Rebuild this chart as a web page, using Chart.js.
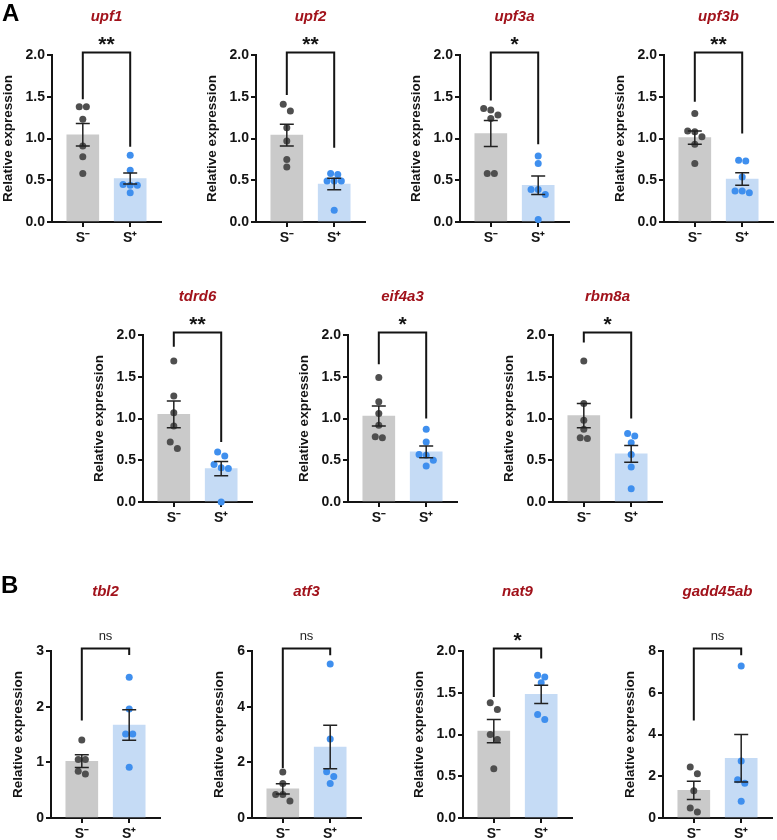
<!DOCTYPE html>
<html><head><meta charset="utf-8">
<script src="https://cdn.jsdelivr.net/npm/chart.js@4.4.1/dist/chart.umd.min.js"></script>
<style>
html,body{margin:0;padding:0;background:#fff}
body{width:777px;height:840px;position:relative;overflow:hidden;font-family:"Liberation Sans",Arial,sans-serif}
.panel{position:absolute;font-weight:bold;font-size:24px;line-height:28px;color:#000;z-index:2}
.box{position:absolute}
</style></head>
<body>
<div class="panel" style="left:2px;top:-1px">A</div>
<div class="panel" style="left:1px;top:571px">B</div>
<script>
// ---------- data ----------
const groups = ['S\u207B', 'S\u207A'];
const genes = ['upf1','upf2','upf3a','upf3b','tdrd6','eif4a3','rbm8a','tbl2','atf3','nat9','gadd45ab'];
const yMax  = [2,2,2,2,2,2,2,3,6,2,8];
const yStep = [0.5,0.5,0.5,0.5,0.5,0.5,0.5,1,2,0.5,2];
const sigLabels = ['**','**','*','**','**','*','*','ns','ns','*','ns'];

const upf1Neg   = [1.38,1.38,1.23,0.91,0.78,0.58];
const upf1Pos   = [0.80,0.62,0.45,0.44,0.44,0.35];
const upf2Neg   = [1.41,1.33,1.13,0.97,0.75,0.66];
const upf2Pos   = [0.58,0.57,0.49,0.49,0.49,0.14];
const upf3aNeg  = [1.36,1.34,1.28,1.24,0.58,0.58];
const upf3aPos  = [0.79,0.70,0.39,0.39,0.33,0.03];
const upf3bNeg  = [1.30,1.09,1.08,1.02,0.93,0.70];
const upf3bPos  = [0.74,0.73,0.54,0.37,0.37,0.35];
const tdrd6Neg  = [1.69,1.27,1.07,0.91,0.72,0.64];
const tdrd6Pos  = [0.60,0.55,0.45,0.41,0.40,0.00];
const eif4a3Neg = [1.49,1.20,1.06,0.92,0.78,0.77];
const eif4a3Pos = [0.87,0.72,0.57,0.56,0.50,0.43];
const rbm8aNeg  = [1.69,1.18,0.98,0.87,0.77,0.76];
const rbm8aPos  = [0.82,0.79,0.71,0.57,0.42,0.16];
const tbl2Neg   = [1.40,1.05,1.05,0.84,0.79];
const tbl2Pos   = [2.53,1.96,1.51,1.51,0.91];
const atf3Neg   = [1.65,1.24,0.84,0.84,0.61];
const atf3Pos   = [5.53,2.84,1.66,1.49,1.24];
const nat9Neg   = [1.38,1.30,1.00,0.94,0.59];
const nat9Pos   = [1.71,1.69,1.62,1.24,1.18];
const gadd45abNeg = [2.44,2.12,1.31,0.48,0.29];
const gadd45abPos = [7.28,2.73,1.83,1.67,0.80];

const meanNeg = [1.044,1.04,1.06,1.01,1.05,1.03,1.035,1.02,1.045,1.04,1.32];
const semNeg  = [0.135,0.13,0.155,0.08,0.16,0.12,0.145,0.115,0.185,0.14,0.435];
const meanPos = [0.52,0.455,0.44,0.515,0.40,0.60,0.577,1.67,2.55,1.48,2.86];
const semPos  = [0.066,0.068,0.11,0.075,0.085,0.07,0.10,0.275,0.785,0.11,1.14];

// bracket leg end values (data units)
const legNeg = [1.47,1.52,1.455,1.44,1.86,1.65,1.91,1.75,1.80,1.45,4.67];
const legPos = [0.90,0.89,0.93,1.06,0.72,1.00,1.00,2.93,5.85,1.91,7.80];

const pointsNeg = [upf1Neg,upf2Neg,upf3aNeg,upf3bNeg,tdrd6Neg,eif4a3Neg,rbm8aNeg,tbl2Neg,atf3Neg,nat9Neg,gadd45abNeg];
const pointsPos = [upf1Pos,upf2Pos,upf3aPos,upf3bPos,tdrd6Pos,eif4a3Pos,rbm8aPos,tbl2Pos,atf3Pos,nat9Pos,gadd45abPos];

// ---------- layout / style ----------
const FONT = '"Liberation Sans", Arial, sans-serif';
const boxes = [[52,54.5],[256,54.5],[460,54.5],[664,54.5],[143,334.5],[348,334.5],[553,334.5],[51,651],[252,651],[463,651],[663,651]];
const PLOT_W = 110, PLOT_H = 167, PAD_TOP = 70, X_H = 26, PAD_R = 3;
const X_MIN = -0.65, X_MAX = 1.65;
const BAR_COLORS = ['#cacaca', '#c5dbf5'];
const DOT_COLORS = ['#4f4f4f', '#3f8fee'];
const INK = '#141414';
const TITLE_COLOR = '#a1121b';
const STEP = 7.2;

function swarm(vals, ymax) {
  const pyu = PLOT_H / ymax, pxu = PLOT_W / (X_MAX - X_MIN);
  const idx = vals.map((v, i) => i).sort((a, b) => vals[b] - vals[a]);
  const offs = new Array(vals.length).fill(0);
  let g = [];
  const flush = () => {
    g.forEach((id, j) => { offs[id] = (j - (g.length - 1) / 2) * STEP / pxu; });
    g = [];
  };
  idx.forEach(i => {
    if (g.length && (vals[g[0]] - vals[i]) * pyu >= STEP) flush();
    g.push(i);
  });
  flush();
  return offs;
}

const decoPlugin = {
  id: 'deco',
  afterDatasetsDraw(chart) {
    const c = chart.canvas.$cfg; if (!c) return;
    const ctx = chart.ctx;
    const xs = chart.scales.x, ys = chart.scales.y;
    ctx.save();
    ctx.strokeStyle = '#222'; ctx.lineWidth = 1.5;
    [[c.mN, c.sN], [c.mP, c.sP]].forEach(([m, s], i) => {
      const x = xs.getPixelForValue(i);
      const yt = ys.getPixelForValue(m + s), yb = ys.getPixelForValue(m - s);
      ctx.beginPath();
      ctx.moveTo(x, yt); ctx.lineTo(x, yb);
      ctx.moveTo(x - 7, yt); ctx.lineTo(x + 7, yt);
      ctx.moveTo(x - 7, yb); ctx.lineTo(x + 7, yb);
      ctx.stroke();
    });
    ctx.restore();
  },
  afterDraw(chart) {
    const c = chart.canvas.$cfg; if (!c) return;
    const ctx = chart.ctx; const a = chart.chartArea;
    const xs = chart.scales.x, ys = chart.scales.y;
    ctx.save();
    // title
    ctx.fillStyle = TITLE_COLOR;
    ctx.font = 'italic bold 15px ' + FONT;
    ctx.textAlign = 'center'; ctx.textBaseline = 'middle';
    ctx.fillText(c.gene, (a.left + a.right) / 2, a.top - c.titleOff);
    // bracket
    const x0 = xs.getPixelForValue(0), x1 = xs.getPixelForValue(1);
    const by = a.top - 2.5;
    ctx.strokeStyle = INK; ctx.lineWidth = 2; ctx.lineJoin = 'miter';
    ctx.beginPath();
    ctx.moveTo(x0, ys.getPixelForValue(c.legN));
    ctx.lineTo(x0, by); ctx.lineTo(x1, by);
    ctx.lineTo(x1, ys.getPixelForValue(c.legP));
    ctx.stroke();
    // significance
    ctx.fillStyle = INK; ctx.textBaseline = 'alphabetic';
    if (c.sig === 'ns') {
      ctx.font = '13px ' + FONT; ctx.fillStyle = '#222';
      ctx.fillText('ns', (x0 + x1) / 2, by - 9);
    } else {
      ctx.font = 'bold 21px ' + FONT;
      ctx.fillText(c.sig, (x0 + x1) / 2, by - 2);
    }
    ctx.restore();
  }
};

genes.forEach((gene, k) => {
  const isB = k >= 7;
  const dec = yStep[k] < 1 ? 1 : 0;
  const yW = dec ? 52 : 41;
  const [ax, ay] = boxes[k];
  const W = yW + PLOT_W + PAD_R, H = PAD_TOP + PLOT_H + X_H;
  const div = document.createElement('div');
  div.className = 'box';
  div.style.left = (ax - yW) + 'px';
  div.style.top = (ay - PAD_TOP) + 'px';
  div.style.width = W + 'px'; div.style.height = H + 'px';
  const cv = document.createElement('canvas');
  cv.width = W; cv.height = H;
  cv.style.width = W + 'px'; cv.style.height = H + 'px';
  div.appendChild(cv); document.body.appendChild(div);
  cv.$cfg = { gene, sig: sigLabels[k], mN: meanNeg[k], sN: semNeg[k], mP: meanPos[k], sP: semPos[k], legN: legNeg[k], legP: legPos[k], titleOff: isB ? 59 : 38 };

  const neg = pointsNeg[k], pos = pointsPos[k];
  const oN = swarm(neg, yMax[k]), oP = swarm(pos, yMax[k]);
  const pts = neg.map((v, i) => ({x: 0 + oN[i], y: v})).concat(pos.map((v, i) => ({x: 1 + oP[i], y: v})));
  const ptCol = neg.map(() => DOT_COLORS[0]).concat(pos.map(() => DOT_COLORS[1]));

  new Chart(cv, {
    type: 'bar',
    data: {
      datasets: [
        { type: 'bar', data: [{x: 0, y: meanNeg[k]}, {x: 1, y: meanPos[k]}], backgroundColor: BAR_COLORS, barThickness: 32, order: 2 },
        { type: 'scatter', data: pts, backgroundColor: ptCol, borderWidth: 0, pointRadius: 3.5, order: 1, clip: false }
      ]
    },
    options: {
      responsive: false, animation: false, devicePixelRatio: 1,
      layout: { padding: { top: PAD_TOP, right: PAD_R, left: 0, bottom: 0 } },
      plugins: { legend: { display: false }, tooltip: { enabled: false } },
      scales: {
        x: {
          type: 'linear', min: X_MIN, max: X_MAX, offset: false,
          afterBuildTicks: s => { s.ticks = [{value: 0}, {value: 1}]; },
          afterFit: s => { s.height = X_H; },
          ticks: { callback: v => groups[v], font: { family: FONT, size: 14, weight: 'bold' }, color: INK, padding: 3, maxRotation: 0, autoSkip: false },
          grid: { offset: false, drawOnChartArea: false, drawTicks: true, tickLength: 5, color: INK, lineWidth: 2 },
          border: { display: true, color: INK, width: 2 }
        },
        y: {
          min: 0, max: yMax[k],
          afterFit: s => { s.width = yW; },
          ticks: { stepSize: yStep[k], callback: v => Number(v).toFixed(dec), font: { family: FONT, size: 14, weight: 'bold' }, color: INK, padding: 2 },
          grid: { drawOnChartArea: false, drawTicks: true, tickLength: 5, color: INK, lineWidth: 2 },
          border: { display: true, color: INK, width: 2 },
          title: { display: true, text: 'Relative expression', font: { family: FONT, size: 13.5, weight: 'bold' }, color: INK, padding: { top: 0, bottom: 0 } }
        }
      }
    },
    plugins: [decoPlugin]
  });
});
</script>
</body></html>
